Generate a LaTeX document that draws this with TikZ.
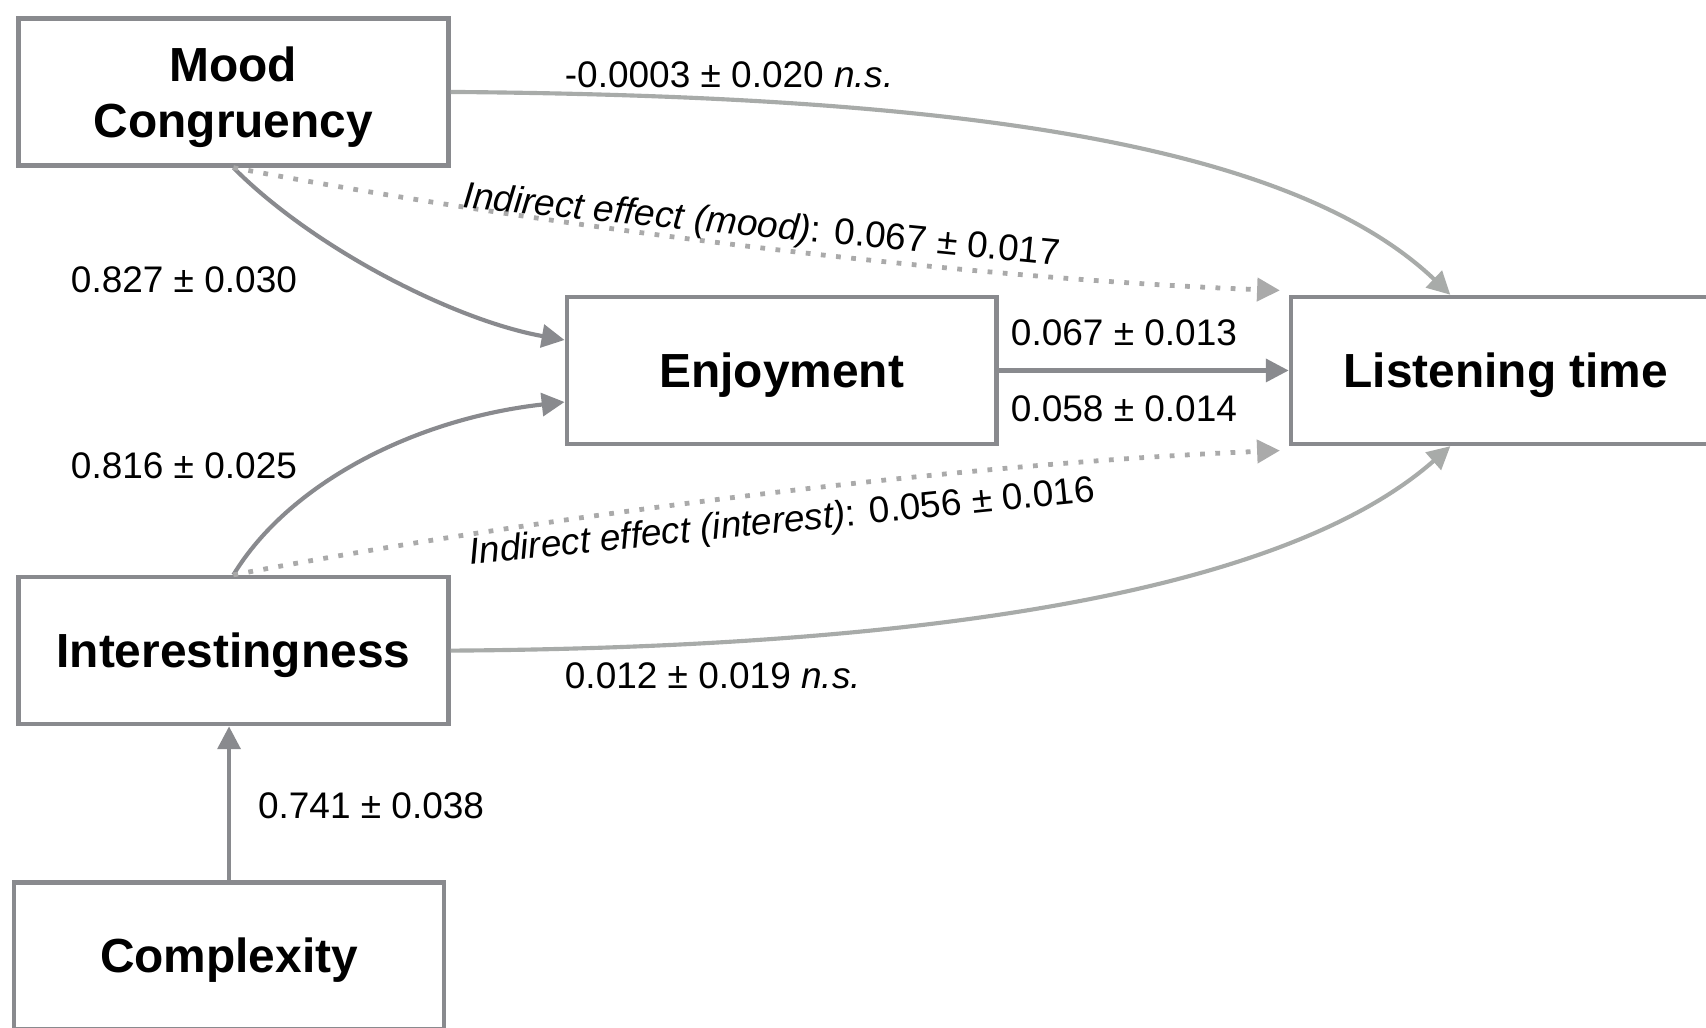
\documentclass[tikz,border=0pt]{standalone}
\usepackage{fontspec}
\setmainfont{Liberation Sans}
\usetikzlibrary{arrows.meta}
\definecolor{boxgray}{HTML}{898A8E}
\definecolor{darkln}{HTML}{898A8E}
\definecolor{lightln}{HTML}{A8ABA9}
\definecolor{dotln}{HTML}{AAAAAA}
\begin{document}
\begin{tikzpicture}[x=1pt,y=-1pt,
  varbox/.style={draw=boxgray, line width=4.2pt, minimum width=395pt, minimum height=135pt, inner sep=0pt, align=center, font=\fontsize{44}{51}\selectfont\bfseries},
  oneline/.style={text height=31.5pt, text depth=0pt},
  lbl/.style={inner sep=0pt, anchor=west, text height=24.3pt, text depth=0pt, font=\fontsize{34}{40}\selectfont},
  indlbl/.style={inner sep=0pt, text height=24.3pt, text depth=0pt, font=\fontsize{34}{40}\selectfont},
  darkarrow/.style={draw=darkln, line width=3.8pt, -{Triangle[length=21pt,width=21pt]}},
  lightarrow/.style={draw=lightln, line width=3.8pt, -{Triangle[length=21pt,width=21pt]}},
  dotarrow/.style={draw=dotln, line width=4.4pt, dash pattern=on 4.4pt off 9.6pt, -{Triangle[length=21pt,width=21pt]}},
]
\useasboundingbox (0,0) rectangle (1568,944);

% boxes
\node[varbox] (mood) at (214.5,84.5) {\rule{0pt}{41.5pt}Mood\\Congruency};
\node[varbox,oneline] (enj) at (718.5,340.5) {Enjoyment};
\node[varbox,oneline] (lt) at (1384,340.5) {Listening time};
\node[varbox,oneline] (int) at (214.5,598) {Interestingness};
\node[varbox,oneline] (comp) at (210.5,878.5) {Complexity};

% connectors
\draw[lightarrow] (mood.east) .. controls (850,88) and (1180,125) .. ([xshift=-51pt]lt.north);
\draw[darkarrow] (mood.south) .. controls (290,230) and (420,295) .. ([yshift=28pt]enj.west);
\draw[dotarrow] (mood.south) .. controls (500,208) and (880,256) .. ([xshift=-8pt,yshift=4pt]lt.north west);
\draw[darkarrow] (enj.east) -- (lt.west);
\draw[darkarrow] (int.north) .. controls (265,445) and (380,385) .. ([yshift=-29pt]enj.west);
\draw[dotarrow] (int.north) .. controls (500,474) and (880,426) .. ([xshift=-8pt,yshift=-4pt]lt.south west);
\draw[lightarrow] (int.east) .. controls (850,595) and (1180,545) .. ([xshift=-51pt]lt.south);
\draw[darkarrow] (comp.north) -- (comp.north |- int.south);

% labels
\node[lbl] (l1) at (519,68) {-0.0003 ± 0.020 \textit{n.s.}};
\node[lbl] (l2) at (65,257) {0.827 ± 0.030};
\node[lbl] (l3) at (929,305) {0.067 ± 0.013};
\node[lbl] (l4) at (929,375) {0.058 ± 0.014};
\node[lbl] (l5) at (65,428) {0.816 ± 0.025};
\node[lbl] (l6) at (519,621) {0.012 ± 0.019 \textit{n.s.}};
\node[lbl] (l7) at (237,740) {0.741 ± 0.038};
\node[indlbl, rotate=-5.6] (ind1) at (700,205.5) {\textit{Indirect effect (mood)}: 0.067 ± 0.017};
\node[indlbl, rotate=5.8] (ind2) at (718.5,477.5) {\textit{Indirect effect (interest)}: 0.056 ± 0.016};
\end{tikzpicture}
\end{document}
